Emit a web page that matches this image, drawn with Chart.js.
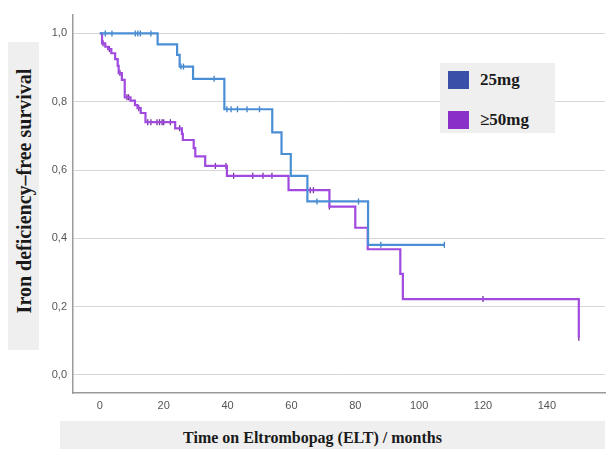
<!DOCTYPE html>
<html>
<head>
<meta charset="utf-8">
<script src="https://cdn.jsdelivr.net/npm/chart.js@4.4.0/dist/chart.umd.min.js"></script>
<style>
  html, body { margin: 0; padding: 0; background: #fff; }
  #wrap { position: relative; width: 613px; height: 449px; overflow: hidden; }
  #km { position: absolute; left: 0; top: 0; }
  .box { position: absolute; background: #efefef; font-family: "Liberation Serif", "Times New Roman", serif; font-weight: bold; color: #1a1a1a; }
  #ytitle { left: 8px; top: 42px; width: 31px; height: 308px; }
  #ytitle span { position: absolute; left: 50%; top: 48.5%; transform: translate(-50%, -50%) rotate(-90deg); white-space: nowrap; font-size: 20px; }
  #xtitle { left: 60px; top: 421px; width: 505px; padding-right: 40px; height: 28px; text-align: center; font-size: 16px; line-height: 34px; }
  #legend { left: 440px; top: 63px; width: 115px; height: 70px; font-size: 17px; }
  .item { position: absolute; left: 8px; height: 18px; display: flex; align-items: center; }
  .sw { width: 21px; height: 18px; margin-right: 11px; }
</style>
</head>
<body>
<div id="wrap">
  <canvas id="km" width="613" height="449"></canvas>
  <div class="box" id="ytitle"><span>Iron deficiency–free survival</span></div>
  <div class="box" id="xtitle">Time on Eltrombopag (ELT) / months</div>
  <div class="box" id="legend"></div>
</div>
<script>
// curva 25mg (tiempo en meses, supervivencia tras cada evento)
const dosis25T = [0, 18.1, 24.2, 25.0, 29.2, 39.0, 54.0, 56.9, 59.8, 65.0, 84.0, 107.9];
const dosis25S = [1.0, 0.968, 0.937, 0.903, 0.867, 0.778, 0.710, 0.647, 0.583, 0.508, 0.381, 0.381];
const dosis25Cens = [1.7, 3.8, 11.1, 11.9, 12.7, 16.0, 25.4, 26.2, 35.8, 39.8, 41.1, 43.1, 46.1, 50.0, 68.0, 81.0, 88.0, 107.9];

// curva >=50mg
const dosis50T = [0, 0.7, 1.7, 2.6, 3.6, 4.8, 5.6, 5.9, 6.9, 7.8, 9.6, 11.0, 11.8, 12.8, 14.3, 23.6, 25.7, 26.0, 29.4, 29.9, 33.0, 39.8, 59.1, 71.9, 80.0, 83.9, 94.1, 94.9, 150.0];
const dosis50S = [1.0, 0.971, 0.961, 0.954, 0.942, 0.925, 0.905, 0.884, 0.864, 0.813, 0.803, 0.790, 0.781, 0.767, 0.740, 0.722, 0.706, 0.688, 0.664, 0.640, 0.612, 0.583, 0.541, 0.493, 0.431, 0.368, 0.296, 0.222, 0.109];
const dosis50Cens = [1.0, 3.0, 6.3, 8.5, 9.0, 12.2, 15.0, 16.0, 17.9, 18.7, 19.5, 20.0, 22.1, 25.0, 36.2, 39.5, 41.9, 47.9, 51.1, 53.9, 65.9, 66.9, 71.9, 120.0, 150.0];

const series = ['25mg', '≥50mg'];
const lineColors = ['#4a8fd6', '#a04ae0'];
const tickColors = ['#3f7fc4', '#6e2f96'];
const legendColors = ['#3a50a8', '#8a30c8'];

const xTicks = [0, 20, 40, 60, 80, 100, 120, 140];
const yTicks = [0, 0.2, 0.4, 0.6, 0.8, 1.0];
const yTickLabels = ['0,0', '0,2', '0,4', '0,6', '0,8', '1,0'];

// supervivencia en el tiempo t (para colocar las marcas de censura)
function survAt(T, S, t) {
    let s = S[0];
    for (let i = 0; i < T.length; i++) {
        if (T[i] <= t) s = S[i];
    }
    return s;
}

const stepData = (T, S) => T.map((t, i) => ({ x: t, y: S[i] }));
const censData = (T, S, C) => C.map(c => ({ x: c, y: survAt(T, S, c) }));

const curvas = [
    { T: dosis25T, S: dosis25S, C: dosis25Cens },
    { T: dosis50T, S: dosis50S, C: dosis50Cens }
];

const datasets = [];
curvas.forEach((c, i) => {
    datasets.push({
        label: series[i],
        data: stepData(c.T, c.S),
        borderColor: lineColors[i],
        borderWidth: 2.2,
        stepped: true,
        pointRadius: 0,
        fill: false
    });
    datasets.push({
        label: series[i] + ' censored',
        type: 'scatter',
        data: censData(c.T, c.S, c.C),
        pointStyle: 'line',
        rotation: 90,
        pointRadius: 3,
        borderWidth: 1.3,
        borderColor: tickColors[i],
        backgroundColor: tickColors[i]
    });
});

// leyenda en HTML
const leg = document.getElementById('legend');
series.forEach((name, i) => {
    const it = document.createElement('div');
    it.className = 'item';
    it.style.top = (i === 0 ? 8 : 48) + 'px';
    it.innerHTML = `<div class="sw" style="background:${legendColors[i]}"></div><span>${name}</span>`;
    leg.appendChild(it);
});

new Chart(document.getElementById('km'), {
    type: 'line',
    data: { datasets },
    options: {
        responsive: false,
        animation: false,
        layout: { padding: { top: 15, right: 8, left: 0, bottom: 0 } },
        plugins: { legend: { display: false }, tooltip: { enabled: false } },
        scales: {
            x: {
                type: 'linear',
                min: -8.4,
                max: 158.2,
                afterBuildTicks: (s) => { s.ticks = xTicks.map(v => ({ value: v })); },
                afterFit: (s) => { s.height = 56; },
                grid: { display: false, drawTicks: false },
                border: { display: true, color: '#9a9a9a', width: 1.5 },
                ticks: { padding: 6, color: '#555', font: { family: 'Liberation Sans', size: 11 } }
            },
            y: {
                min: -0.053,
                max: 1.054,
                afterBuildTicks: (s) => { s.ticks = yTicks.map(v => ({ value: v })); },
                afterFit: (s) => { s.width = 73; },
                grid: { color: '#d6d6d6', lineWidth: 1, drawTicks: false },
                border: { display: true, color: '#9a9a9a', width: 1.5 },
                ticks: {
                    padding: 6,
                    color: '#555',
                    font: { family: 'Liberation Sans', size: 11 },
                    callback: (v) => yTickLabels[yTicks.indexOf(v)]
                }
            }
        }
    }
});
</script>
</body>
</html>
